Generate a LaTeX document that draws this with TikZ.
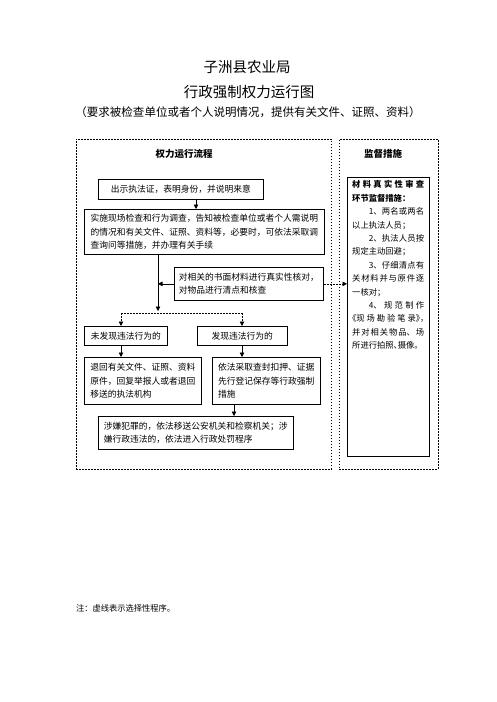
\documentclass[tikz,border=0pt]{standalone}
\usepackage{fontspec}
\setmainfont{Noto Sans CJK SC}
\newfontfamily\cjkhalt[RawFeature=+halt]{Noto Sans CJK SC}
\usetikzlibrary{arrows.meta}
\XeTeXlinebreaklocale "zh"
\XeTeXlinebreakskip=0pt plus 4pt
\newcommand\boxfont{\fontsize{8.75bp}{13.5bp}\selectfont}
\newcommand\sidefont{\fontsize{8.3bp}{13.4bp}\selectfont}
\begin{document}
\begin{tikzpicture}[x=1bp,y=-1bp,
  box/.style={draw, line width=0.7bp, inner sep=0pt, anchor=north west, align=left, font=\boxfont},
  panel/.style={draw, line width=0.7bp, dash pattern=on 1.8bp off 1.2bp, inner sep=0pt, anchor=north west},
  arr/.style={line width=0.7bp, -{Triangle[length=4.5bp,width=4.5bp]}},
  darr/.style={line width=0.7bp, dash pattern=on 1.8bp off 1.2bp, -{Triangle[length=4.5bp,width=4.5bp]}},
  dline/.style={line width=0.7bp, dash pattern=on 1.8bp off 1.2bp},
  head/.style={font=\fontsize{9.5bp}{11bp}\selectfont\bfseries, inner sep=0pt}]
\fill[white] (0,0) rectangle (497,702);
\useasboundingbox (0,0) rectangle (497,702);

% titles
\node[font=\fontsize{14.5bp}{16bp}\selectfont, inner sep=0pt] (t1) at (247,67) {子洲县农业局};
\node[font=\fontsize{14.5bp}{16bp}\selectfont, inner sep=0pt] (t2) at (249,92) {行政强制权力运行图};
\node[font=\fontsize{11.5bp}{13bp}\selectfont, inner sep=0pt] (t3) at (248,112) {（要求被检查单位或者个人说明情况，提供有关文件、证照、资料）};

% panels
\node[panel, minimum width=255.3bp, minimum height=330bp] (lpanel) at (75.7,138.7) {};
\node[panel, minimum width=98.7bp, minimum height=330bp] (rpanel) at (339,138.7) {};
\node[head] (h1) at (184,154) {权力运行流程};
\node[head] (h2) at (383,154) {监督措施};

% flow boxes
\node[box, minimum width=165bp, minimum height=20bp] (b1) at (98,179) {出示执法证，表明身份，并说明来意};
\node[box, minimum width=240bp, minimum height=45bp] (b2) at (84,209) {实施现场检查和行为调查，告知被检查单位或者个人需说明\\的情况和有关文件、证照、资料等，必要时，可依法采取调\\查询问等措施，并办理有关手续};
\node[box, minimum width=149bp, minimum height=33bp] (b3) at (174,267) {对相关的书面材料进行真实性核对，\\对物品进行清点和核查};
\node[box, minimum width=83bp, minimum height=19bp] (b4) at (84,326) {未发现违法行为的};
\node[box, minimum width=90bp, minimum height=19bp] (b5) at (197,326) {发现违法行为的};
\node[box, minimum width=117bp, minimum height=47bp] (b6) at (84,357) {退回有关文件、证照、资料\\原件，回复举报人或者退回\\移送的执法机构};
\node[box, minimum width=108bp, minimum height=47bp] (b7) at (212,357) {依法采取查封扣押、证据\\先行登记保存等行政强制\\措施\phantom{保存等行政强制证据}};
\node[box, minimum width=195bp, minimum height=33bp] (b8) at (98,416) {涉嫌犯罪的，依法移送公安机关和检察机关；涉\\嫌行政违法的，依法进入行政处罚程序\phantom{关和检}};

% supervision box
\node[box, minimum width=82bp, minimum height=279bp] (rbox) at (347,177) {};
\node[anchor=north west, inner sep=0pt, text width=72bp, align=justify, font=\sidefont] (rtext) at (352,180.5) {%
\setlength{\parindent}{0pt}\setlength{\parskip}{0pt}%
\textbf{材料真实性审查\linebreak 环节监督措施：}\par
\hspace*{2em}1、两名或两名\linebreak 以上执法人员；\par
\hspace*{2em}2、执法人员按\linebreak 规定主动回避；\par
\hspace*{2em}3、仔细清点有\linebreak 关材料并与原件逐\linebreak 一核对；\par
\hspace*{2em}4、规范制作\linebreak {\cjkhalt 《}现场勘验笔录{\cjkhalt 》，}\linebreak 并对相关物品、场\linebreak 所进行拍照{\cjkhalt 、}摄像{\cjkhalt 。}\par};

% connectors
\coordinate (a1) at (196,0);
\draw[arr] (a1 |- b1.south) -- (a1 |- b2.north);
\coordinate (j) at (158,311);
\draw[arr] (j |- b2.south) -- (j);
\draw[arr] (b3.west) -- (b3.west -| j);
\coordinate (jl) at (121,313);
\coordinate (jr) at (242,313);
\draw[dline] (jl) -- (jr);
\draw[darr] (jl) -- (jl |- b4.north);
\draw[darr] (jr) -- (jr |- b5.north);
\draw[arr] (jl |- b4.south) -- (jl |- b6.north);
\draw[arr] (jr |- b5.south) -- (jr |- b7.north);
\coordinate (a7) at (234,0);
\draw[arr] (a7 |- b7.south) -- (a7 |- b8.north);
\draw[darr] (b3.east) -- (b3.east -| rbox.west);

% note
\node[anchor=west, inner sep=0pt, font=\fontsize{8.25bp}{10bp}\selectfont] (note) at (76,608) {注：虚线表示选择性程序。};
\end{tikzpicture}
\end{document}
